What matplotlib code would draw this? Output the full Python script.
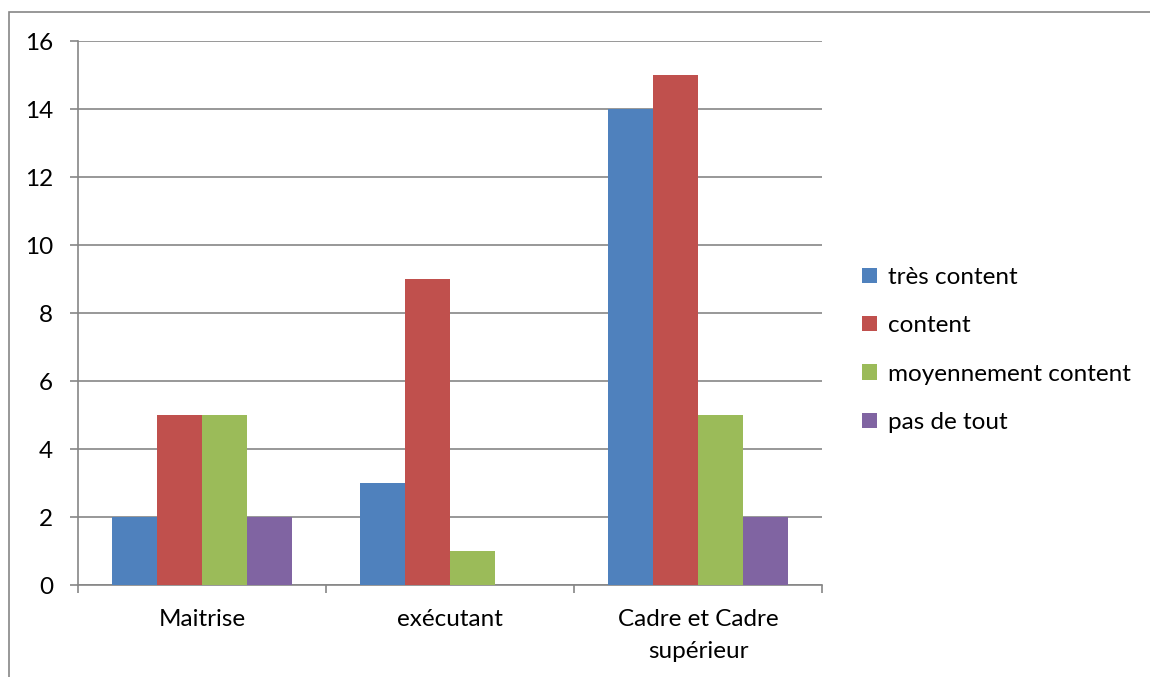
import numpy as np
import matplotlib.pyplot as plt
from matplotlib.patches import Rectangle

categories = ["Maitrise", "exécutant", "Cadre et Cadre\nsupérieur"]
series = ["très content", "content", "moyennement content", "pas de tout"]
values = [
    [2, 3, 14],   # très content
    [5, 9, 15],   # content
    [5, 1, 5],    # moyennement content
    [2, 0, 2],    # pas de tout
]
colors = ["#4f81bd", "#c0504d", "#9bbb59", "#8064a2"]

plt.rcParams["font.family"] = ["Lato", "DejaVu Sans"]
grey = "#868686"
fs = 17.5

fig = plt.figure(figsize=(11.5, 6.77), dpi=100)
ax = fig.add_axes([78 / 1150, 92 / 677, 744 / 1150, 544 / 677])

x = np.arange(len(categories))
width = 1 / 5.5
for i, (name, vals) in enumerate(zip(series, values)):
    ax.bar(x + (i - 1.5) * width, vals, width, color=colors[i], label=name, zorder=3)

ax.set_xlim(-0.5, len(categories) - 0.5)
ax.set_ylim(0, 16)
ax.set_yticks(range(0, 17, 2))
ax.yaxis.grid(True, color=grey, linewidth=1.2, zorder=0)

ax.set_xticks(x)
ax.set_xticklabels(categories, fontsize=fs, linespacing=1.65)
ax.set_xticks(np.arange(-0.5, len(categories)), minor=True)
ax.tick_params(axis="x", which="major", length=0, pad=17)
ax.tick_params(axis="x", which="minor", length=6, width=1.2, color=grey)
ax.tick_params(axis="y", length=6, width=1.2, color=grey, labelsize=fs, pad=12)

for side in ["top", "right"]:
    ax.spines[side].set_visible(False)
for side in ["left", "bottom"]:
    ax.spines[side].set_color(grey)
    ax.spines[side].set_linewidth(1.2)

ax.legend(loc="center left", bbox_to_anchor=(862 / 1150, (677 - 350) / 677),
          bbox_transform=fig.transFigure, frameon=False, fontsize=fs,
          handlelength=0.6, handleheight=0.6, handletextpad=0.45,
          labelspacing=1.13, borderpad=0, borderaxespad=0)

# outer chart frame
fig.patches.append(Rectangle((8.5 / 1150, -0.01), 1.1, (665 / 677) + 0.01,
                             transform=fig.transFigure, fill=False,
                             edgecolor=grey, linewidth=1.2))

fig.savefig("out.png", dpi=100)
